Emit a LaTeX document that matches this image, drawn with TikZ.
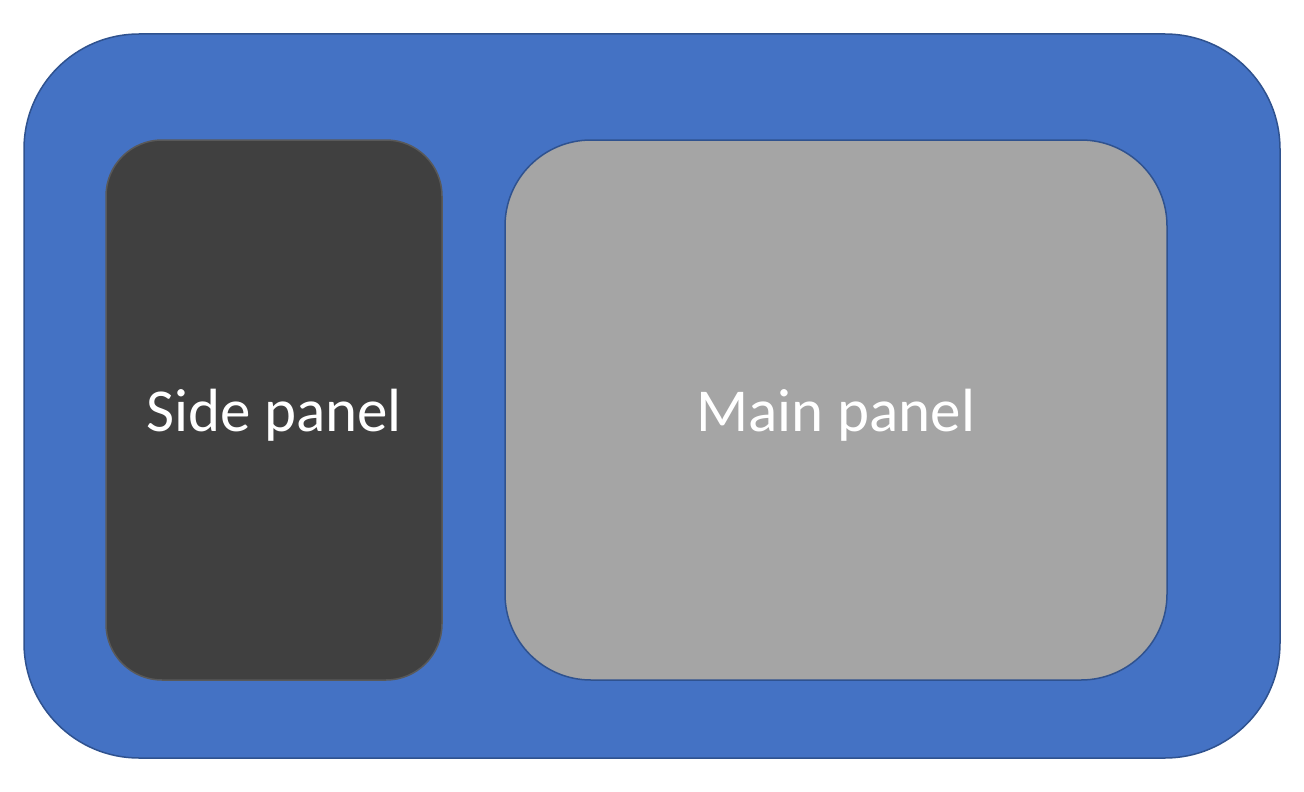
\documentclass[tikz,border=0pt]{standalone}
\usepackage{fontspec}
\setmainfont{Carlito}
\usepackage{xcolor}
\usepackage{tikz}
\usetikzlibrary{positioning}

\definecolor{frameblue}{HTML}{4472C4}
\definecolor{edgeblue}{HTML}{2F528F}
\definecolor{sidegray}{HTML}{404040}
\definecolor{sideedge}{HTML}{595959}
\definecolor{maingray}{HTML}{A5A5A5}

\newcommand{\panellabel}[1]{\raisebox{-5pt}[\height][\depth]{#1}}

\begin{document}
\begin{tikzpicture}[
        x=1pt, y=-1pt,
        panel/.style={rectangle, inner sep=0pt, outer sep=0pt, line width=1.5pt, align=center, text=white, font=\fontsize{61}{73}\selectfont},
        frame/.style={panel, fill=frameblue, draw=edgeblue, rounded corners=115pt, minimum width=1256pt, minimum height=724pt},
        sidebox/.style={panel, fill=sidegray, draw=sideedge, rounded corners=56pt, minimum width=336pt, minimum height=540pt},
        mainbox/.style={panel, fill=maingray, draw=edgeblue, rounded corners=86pt, minimum width=662pt, minimum height=540pt},
    ]
        \useasboundingbox (0,0) rectangle (1304,792);

        % Outer frame
        \node[frame] (window) at (652,396) {};

        % Panels
        \node[sidebox] (side) at (274,410) {\panellabel{Side panel}};
        \node[mainbox] (main) at (836,410) {\panellabel{Main panel}};
    \end{tikzpicture}
\end{document}
